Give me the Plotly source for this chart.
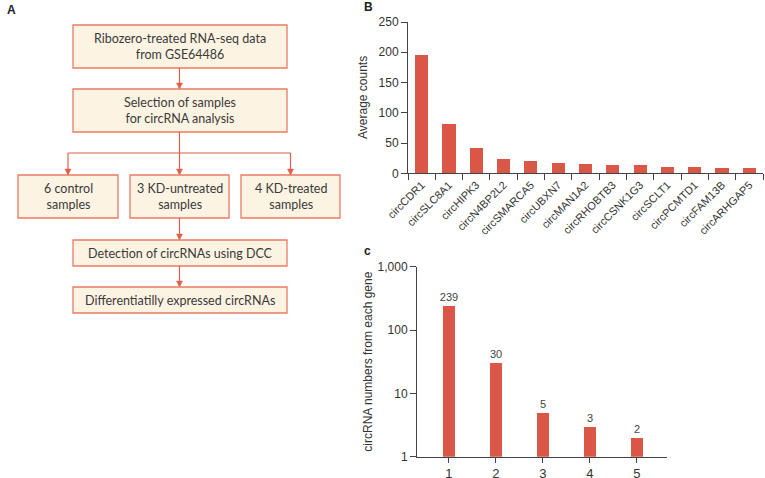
import plotly.graph_objects as go

# ---------------- data ----------------
genes = ["circCDR1", "circSLC8A1", "circHIPK3", "circN4BP2L2", "circSMARCA5", "circUBXN7",
         "circMAN1A2", "circRHOBTB3", "circCSNK1G3", "circSCLT1", "circPCMTD1", "circFAM13B",
         "circARHGAP5"]
avg_counts = [195, 81, 42, 24, 20, 17, 16, 14, 13, 11, 10, 9.5, 9.5]
b_ticks = [0, 50, 100, 150, 200, 250]

circ_per_gene = [1, 2, 3, 4, 5]
gene_numbers = [239, 30, 5, 3, 2]
c_tickvals = [1, 10, 100, 1000]
c_ticktext = ["1", "10", "100", "1,000"]

flow_labels = [
    "Ribozero-treated RNA-seq data<br>from GSE64486",
    "Selection of samples<br>for circRNA analysis",
    "6 control<br>samples",
    "3 KD-untreated<br>samples",
    "4 KD-treated<br>samples",
    "Detection of circRNAs using DCC",
    "Differentiatilly expressed circRNAs",
]

# ---------------- styling / layout ----------------
W, H = 765, 478
BAR = "#DA5646"
BOX_FILL = "#FDF3E2"
BOX_LINE = "#EC7A63"
ARROW = "#E05F4B"
TXT = "#3a3a3a"
AX = "#444444"


def px(x):
    return x / W


def py(y):
    return 1 - y / H


# box pixel geometry (x0, y0, x1, y1)
boxes = [
    (73, 25, 287, 68),
    (73, 89, 287, 132),
    (18, 175, 118, 218),
    (130, 175, 229, 218),
    (241, 175, 340, 218),
    (73, 240, 287, 266),
    (73, 287, 287, 313),
]

fig = go.Figure()

fig.add_trace(go.Bar(
    x=genes, y=avg_counts, marker=dict(color=BAR, line=dict(width=0)),
    width=0.48, xaxis="x", yaxis="y", showlegend=False,
))

fig.add_trace(go.Bar(
    x=circ_per_gene, y=gene_numbers, marker=dict(color=BAR, line=dict(width=0)),
    width=0.26, xaxis="x2", yaxis="y2", showlegend=False,
    text=[str(v) for v in gene_numbers], textposition="outside", constraintext="none",
    textfont=dict(family="Liberation Sans, Arial", size=11, color="#444"),
    cliponaxis=False,
))

shapes = []
annotations = []

for (x0, y0, x1, y1), lab in zip(boxes, flow_labels):
    shapes.append(dict(type="rect", xref="paper", yref="paper",
                       x0=px(x0), x1=px(x1), y0=py(y1), y1=py(y0),
                       fillcolor=BOX_FILL, line=dict(color=BOX_LINE, width=1.3), layer="below"))
    annotations.append(dict(xref="paper", yref="paper", x=px((x0 + x1) / 2), y=py((y0 + y1) / 2),
                            text=lab, showarrow=False, xanchor="center", yanchor="middle",
                            font=dict(family="Lato, Noto Sans", size=12.5, color=TXT)))


def line(x0, y0, x1, y1):
    shapes.append(dict(type="line", xref="paper", yref="paper",
                       x0=px(x0), y0=py(y0), x1=px(x1), y1=py(y1),
                       line=dict(color=ARROW, width=1.2)))


def head(x, y):
    # downward-pointing arrowhead with its tip at (x, y)
    path = "M {} {} L {} {} L {} {} Z".format(
        px(x), py(y), px(x - 3), py(y - 6), px(x + 3), py(y - 6))
    shapes.append(dict(type="path", xref="paper", yref="paper", path=path,
                       fillcolor=ARROW, line=dict(color=ARROW, width=0.5)))


cx = 179.5
line(cx, 68, cx, 88); head(cx, 89)
line(cx, 132, cx, 174); head(cx, 175)
line(68, 153, 290.5, 153)
line(68, 153, 68, 174); head(68, 175)
line(290.5, 153, 290.5, 174); head(290.5, 175)
line(cx, 218, cx, 239); head(cx, 240)
line(cx, 266, cx, 286); head(cx, 287)

# panel letters
for lab, x, y in [("A", 5, 10), ("B", 362, 7), ("c", 362, 251)]:
    annotations.append(dict(xref="paper", yref="paper", x=px(x), y=py(y), text="<b>%s</b>" % lab,
                            showarrow=False, xanchor="left", yanchor="middle",
                            font=dict(family="Liberation Sans, Arial", size=12, color="#222")))

# axis titles
annotations.append(dict(xref="paper", yref="paper", x=px(363), y=py(98), text="Average counts",
                        textangle=-90, showarrow=False, xanchor="center", yanchor="middle",
                        font=dict(family="Liberation Sans, Arial", size=12, color="#333")))
annotations.append(dict(xref="paper", yref="paper", x=px(368), y=py(361.7),
                        text="circRNA numbers from each gene",
                        textangle=-90, showarrow=False, xanchor="center", yanchor="middle",
                        font=dict(family="Liberation Sans, Arial", size=12, color="#333")))

axfont = dict(family="Liberation Sans, Arial", size=12, color="#333")

fig.update_layout(
    width=W, height=H, margin=dict(l=0, r=0, t=0, b=0, autoexpand=False),
    paper_bgcolor="white", plot_bgcolor="white",
    shapes=shapes, annotations=annotations, bargap=0,
    xaxis=dict(domain=[px(408), px(763)], anchor="y", type="category", automargin=False,
               range=[-0.5, len(genes) - 0.5], showline=True, linecolor=AX, linewidth=1,
               ticks="outside", tickson="boundaries", ticklen=6, tickcolor=AX,
               tickangle=-45, tickfont=dict(family="Liberation Sans, Arial", size=11, color="#333"),
               showgrid=False, zeroline=False, fixedrange=True),
    yaxis=dict(domain=[py(173.3), py(22)], anchor="x", range=[0, 250], automargin=False,
               tickvals=b_ticks, showline=True, linecolor=AX, linewidth=1,
               ticks="outside", ticklen=6, tickcolor=AX, tickfont=axfont,
               showgrid=False, zeroline=False),
    xaxis2=dict(domain=[px(417), px(667)], anchor="y2", range=[0.32, 5.64], automargin=False,
                tickvals=circ_per_gene, showline=True, linecolor=AX, linewidth=1,
                ticks="outside", ticklen=5, tickcolor=AX,
                tickfont=dict(family="Liberation Sans, Arial", size=13, color="#333"),
                showgrid=False, zeroline=False),
    yaxis2=dict(domain=[py(456.7), py(266.7)], anchor="x2", type="log", range=[0, 3],
                automargin=False,
                tickvals=c_tickvals, ticktext=c_ticktext, showline=True, linecolor=AX, linewidth=1,
                ticks="outside", ticklen=6, tickcolor=AX,
                tickfont=dict(family="Liberation Sans, Arial", size=12, color="#333"),
                showgrid=False, zeroline=False),
)

fig.write_html("out.html", config={"displayModeBar": False},
               post_script="document.body.style.margin='0';document.body.style.overflow='hidden';")
